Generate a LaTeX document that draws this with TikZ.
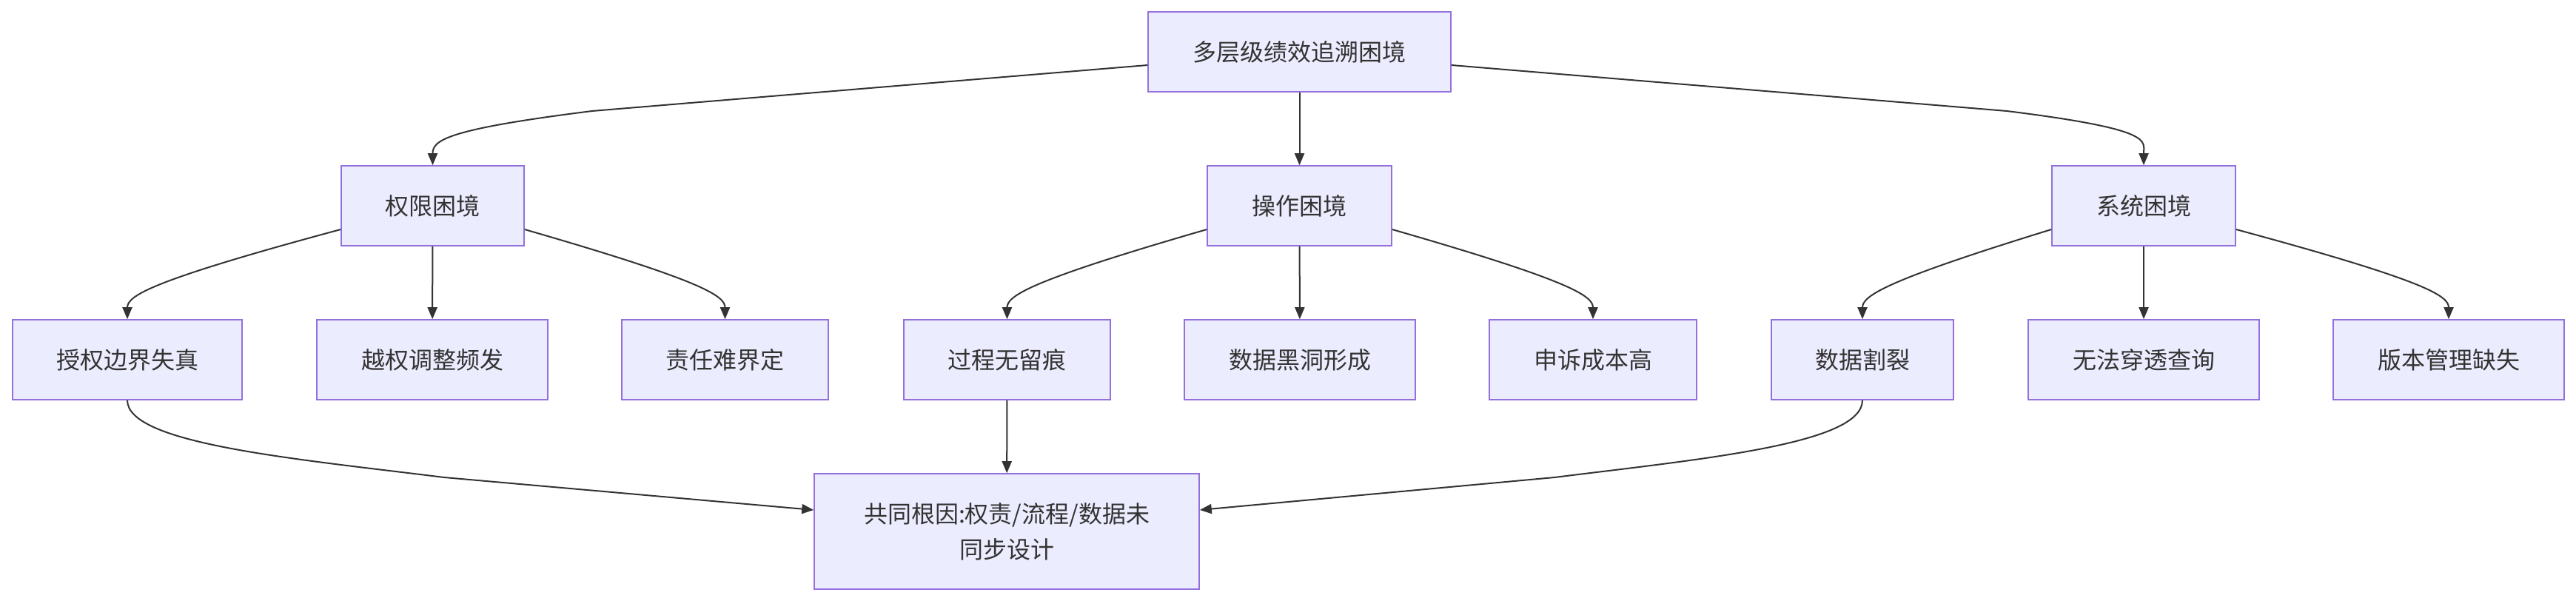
\documentclass[tikz,border=0pt]{standalone}
\usepackage{fontspec}
\setmainfont{Noto Sans CJK SC}
\usetikzlibrary{arrows.meta}
\begin{document}
\begin{tikzpicture}[x=1pt,y=-1pt,
  box/.style={draw=boxline,fill=boxfill,line width=0.8pt,inner sep=0pt,minimum height=54pt,font=\fontsize{16pt}{24pt}\selectfont,text=textc,align=center},
  edge/.style={draw=linec,line width=1pt,-{Triangle[length=8pt,width=6.5pt]}}]
\definecolor{boxline}{HTML}{9370DB}
\definecolor{boxfill}{HTML}{ECECFF}
\definecolor{linec}{HTML}{333333}
\definecolor{textc}{HTML}{333333}
\useasboundingbox[fill=white] (0,0) rectangle (1740,406);
\node[box,minimum width=204.5pt] (top) at (877.75,35) {多层级绩效追溯困境};
\node[box,minimum width=123.5pt] (k) at (292.25,139) {权限困境};
\node[box,minimum width=124.5pt] (o) at (877.75,139) {操作困境};
\node[box,minimum width=124pt] (s) at (1448,139) {系统困境};
\node[box,minimum width=155pt] (k1) at (86,243) {授权边界失真};
\node[box,minimum width=156pt] (k2) at (292,243) {越权调整频发};
\node[box,minimum width=139.5pt] (k3) at (489.75,243) {责任难界定};
\node[box,minimum width=139.5pt] (o1) at (680.25,243) {过程无留痕};
\node[box,minimum width=156pt] (o2) at (878,243) {数据黑洞形成};
\node[box,minimum width=140pt] (o3) at (1076,243) {申诉成本高};
\node[box,minimum width=123pt] (s1) at (1258,243) {数据割裂};
\node[box,minimum width=156pt] (s2) at (1448,243) {无法穿透查询};
\node[box,minimum width=156pt] (s3) at (1654,243) {版本管理缺失};
\node[box,minimum width=260pt,minimum height=78pt] (b) at (680,359) {共同根因:权责/流程/数据未\\同步设计};

\draw[edge] ([yshift=-9pt]top.west) -- (400,75) .. controls (300,87.5) and (292.25,95) .. (k.north);
\draw[edge] (top) -- (o);
\draw[edge] ([yshift=-9pt]top.east) -- (1355.5,75) .. controls (1456,87.5) and (1448,95) .. (s.north);

\draw[edge] ([yshift=-16pt]k.west) .. controls (100,190) and (86,200) .. (k1.north);
\draw[edge] (k) -- (k2);
\draw[edge] ([yshift=-16pt]k.east) .. controls (475.75,190) and (489.75,200) .. (k3.north);
\draw[edge] ([yshift=-16pt]o.west) .. controls (694,190) and (680.25,200) .. (o1.north);
\draw[edge] (o) -- (o2);
\draw[edge] ([yshift=-16pt]o.east) .. controls (1062,190) and (1076,200) .. (o3.north);
\draw[edge] ([yshift=-16pt]s.west) .. controls (1272,190) and (1258,200) .. (s1.north);
\draw[edge] (s) -- (s2);
\draw[edge] ([yshift=-16pt]s.east) .. controls (1640,190) and (1654,200) .. (s3.north);

\draw[edge] (k1.south) .. controls (86,300) and (200,310) .. (300,322.5) -- ([yshift=14.5pt]b.west);
\draw[edge] (o1) -- (b);
\draw[edge] (s1.south) .. controls (1258,300) and (1150,310) .. (1050,322.5) -- ([yshift=14.5pt]b.east);
\end{tikzpicture}
\end{document}
